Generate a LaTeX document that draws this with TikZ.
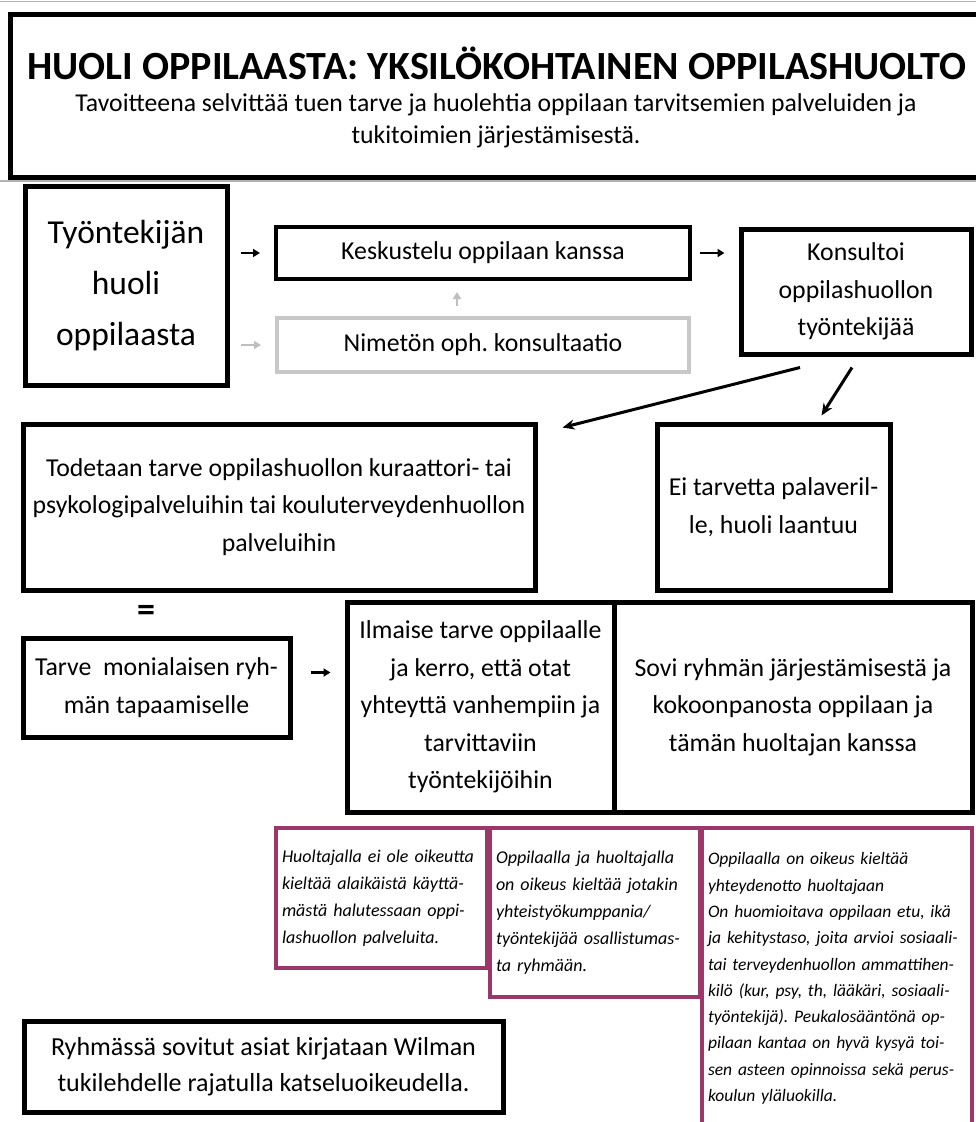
\documentclass[tikz,border=0pt]{standalone}
\usepackage{fontspec}
\setmainfont{Carlito}
\frenchspacing
\usetikzlibrary{arrows.meta}
\definecolor{plum}{RGB}{155,55,105}
\definecolor{lgray}{RGB}{200,200,200}
\definecolor{agray}{RGB}{190,190,190}
\begin{document}
\begin{tikzpicture}[x=1pt,y=-1pt,
  box/.style={draw=black,line width=5pt,rectangle,inner sep=0pt,align=center,
    font=\frenchspacing\fontsize{25.8}{37.5}\selectfont},
  thinbox/.style={box,line width=4pt},
  graybox/.style={box,line width=4pt,draw=lgray},
  pbox/.style={draw=plum,line width=4pt,rectangle,inner sep=0pt,align=left,
    font=\frenchspacing\itshape\fontsize{18}{27}\selectfont},
  arr/.style={-{Triangle[length=7pt,width=8pt]},line width=2.5pt},
  garr/.style={arr,draw=agray},
  darr/.style={-{Stealth[length=12pt,width=10pt]},line width=3pt}
]
\useasboundingbox (0,0) rectangle (976,1122);
\fill[white] (0,0) rectangle (976,1122);
\draw[gray!60,line width=1.5pt] (0,1.5) -- (976,1.5);
\draw[gray!60,line width=1.5pt] (0,181) -- (976,181);

% title
\node[box,minimum width=980pt,minimum height=163pt] (titlebox) at (500,95.5) {};
\node[font=\bfseries\fontsize{40}{50}\selectfont,inner sep=0pt] (title) at (497,63)
  {HUOLI OPPILAASTA: YKSILÖKOHTAINEN OPPILASHUOLTO};
\node[font=\fontsize{25.7}{32}\selectfont,align=center,inner sep=0pt] (sub) at (496,121)
  {Tavoitteena selvittää tuen tarve ja huolehtia oppilaan tarvitsemien palveluiden ja\\
   tukitoimien järjestämisestä.};

% row 1
\node[box,minimum width=202pt,minimum height=199pt,font=\fontsize{33.5}{51}\selectfont]
  (tyo) at (126,285.5) {Työntekijän\\huoli\\oppilaasta};
\node[thinbox,minimum width=414pt,minimum height=52pt] (kes) at (483,253)
  {Keskustelu oppilaan kanssa};
\node[graybox,minimum width=412pt,minimum height=54pt] (nim) at (483,345)
  {Nimetön oph. konsultaatio};
\node[box,minimum width=230pt,minimum height=125pt] (kon) at (856,291.5)
  {Konsultoi\\oppilashuollon\\työntekijää};

% row 2
\node[box,minimum width=512pt,minimum height=166pt] (tod) at (279,507)
  {Todetaan tarve oppilashuollon kuraattori- tai\\psykologipalveluihin tai kouluterveydenhuollon\\palveluihin};
\node[box,minimum width=233pt,minimum height=166pt] (ei) at (773.5,507)
  {Ei tarvetta palaveril-\\le, huoli laantuu};

% row 3
\node[font=\bfseries\fontsize{36}{40}\selectfont,inner sep=0pt] (eq) at (146,613) {=};
\node[box,minimum width=267pt,minimum height=99pt] (tarve) at (156.5,687.5)
  {Tarve~ monialaisen ryh-\\män tapaamiselle};
\node[box,minimum width=267pt,minimum height=210pt] (ilm) at (480.5,707)
  {Ilmaise tarve oppilaalle\\ja kerro, että otat\\yhteyttä vanhempiin ja\\tarvittaviin\\työntekijöihin};
\node[box,minimum width=358pt,minimum height=210pt] (sovi) at (793,707)
  {Sovi ryhmän järjestämisestä ja\\kokoonpanosta oppilaan ja\\tämän huoltajan kanssa};

% purple notes
\node[pbox,minimum width=211pt,minimum height=140pt,text width=199pt] (p1) at (381.5,898)
  {Huoltajalla ei ole oikeutta\\kieltää alaikäistä käyttä-\\mästä halutessaan oppi-\\lashuollon palveluita.};
\node[pbox,minimum width=210pt,minimum height=169pt,text width=198pt] (p2) at (595,912.5)
  {Oppilaalla ja huoltajalla\\on oikeus kieltää jotakin\\yhteistyökumppania/\\työntekijää osallistumas-\\ta ryhmään.};
\node[pbox,minimum width=270pt,minimum height=301pt,text width=258pt,
  font=\frenchspacing\itshape\fontsize{17.5}{26.3}\selectfont] (p3) at (837,978.5)
  {Oppilaalla on oikeus kieltää\\yhteydenotto huoltajaan\\On huomioitava oppilaan etu, ikä\\ja kehitystaso, joita arvioi sosiaali-\\tai terveydenhuollon ammattihen-\\kilö (kur, psy, th, lääkäri, sosiaali-\\työntekijä). Peukalosääntönä op-\\pilaan kantaa on hyvä kysyä toi-\\sen asteen opinnoissa sekä perus-\\koulun yläluokilla.};

% bottom
\node[box,minimum width=479pt,minimum height=91pt,font=\fontsize{26}{36}\selectfont] (ryh) at (263.5,1066.5)
  {Ryhmässä sovitut asiat kirjataan Wilman\\tukilehdelle rajatulla katseluoikeudella.};

% connectors
\draw[arr,shorten <=11pt,shorten >=14pt] (tyo.east |- kes.west) -- (kes.west);
\draw[garr,shorten <=11pt,shorten >=14pt] (tyo.east |- nim.west) -- (nim.west);
\draw[garr,shorten <=10pt,shorten >=11pt] ([xshift=-26pt]nim.north) -- ([xshift=-26pt]kes.north |- kes.south);
\draw[arr,shorten <=8pt,shorten >=14pt] (kes.east) -- (kes.east -| kon.west);
\draw[darr] ([xshift=-56pt,yshift=-11pt]kon.south) -- ([xshift=25pt,yshift=-6pt]tod.north east);
\draw[darr] ([xshift=-4pt,yshift=-11pt]kon.south) -- ([xshift=48pt,yshift=6pt]ei.north);
\draw[arr,shorten <=18pt,shorten >=14pt] ([yshift=15pt]tarve.east) -- ([yshift=15pt]tarve.east -| ilm.west);
\end{tikzpicture}
\end{document}
